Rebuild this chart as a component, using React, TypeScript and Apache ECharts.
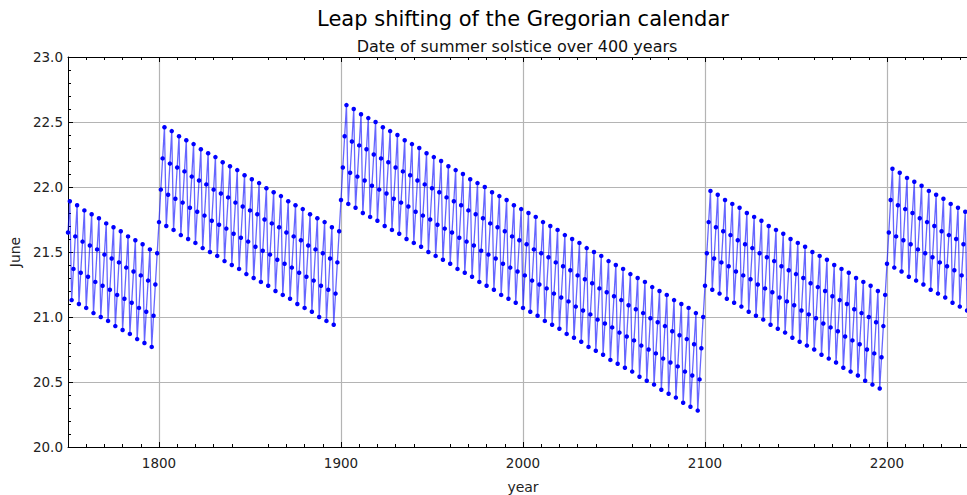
import React, { useEffect, useRef } from "react";
import * as echarts from "echarts";

const firstYear = 1750;

// Day of June of the summer solstice, one value per year 1750..2250
const juneDay: number[] = [
  // 1750-1751
  21.65, 21.89,
  // 1752-1799
  21.13, 21.37, 21.62, 21.86, 21.10, 21.34, 21.58, 21.82, 21.07, 21.31, 21.55, 21.79,
  21.03, 21.27, 21.52, 21.76, 21.00, 21.24, 21.48, 21.72, 20.97, 21.21, 21.45, 21.69,
  20.93, 21.17, 21.42, 21.66, 20.90, 21.14, 21.38, 21.62, 20.87, 21.11, 21.35, 21.59,
  20.83, 21.07, 21.32, 21.56, 20.80, 21.04, 21.28, 21.52, 20.77, 21.01, 21.25, 21.49,
  // 1800-1803
  21.73, 21.98, 22.22, 22.46,
  // 1804-1899
  21.70, 21.94, 22.18, 22.43, 21.67, 21.91, 22.15, 22.39, 21.63, 21.88, 22.12, 22.36,
  21.60, 21.84, 22.08, 22.33, 21.57, 21.81, 22.05, 22.29, 21.53, 21.78, 22.02, 22.26,
  21.50, 21.74, 21.98, 22.23, 21.47, 21.71, 21.95, 22.19, 21.43, 21.68, 21.92, 22.16,
  21.40, 21.64, 21.88, 22.13, 21.37, 21.61, 21.85, 22.09, 21.33, 21.58, 21.82, 22.06,
  21.30, 21.54, 21.79, 22.03, 21.27, 21.51, 21.75, 21.99, 21.24, 21.48, 21.72, 21.96,
  21.20, 21.44, 21.69, 21.93, 21.17, 21.41, 21.65, 21.89, 21.14, 21.38, 21.62, 21.86,
  21.10, 21.34, 21.59, 21.83, 21.07, 21.31, 21.55, 21.79, 21.04, 21.28, 21.52, 21.76,
  21.00, 21.24, 21.49, 21.73, 20.97, 21.21, 21.45, 21.69, 20.94, 21.18, 21.42, 21.66,
  // 1900-1903
  21.90, 22.15, 22.39, 22.63,
  // 1904-2099
  21.87, 22.11, 22.35, 22.60, 21.84, 22.08, 22.32, 22.56, 21.80, 22.05, 22.29, 22.53,
  21.77, 22.01, 22.25, 22.50, 21.74, 21.98, 22.22, 22.46, 21.70, 21.95, 22.19, 22.43,
  21.67, 21.91, 22.15, 22.40, 21.64, 21.88, 22.12, 22.36, 21.60, 21.85, 22.09, 22.33,
  21.57, 21.81, 22.05, 22.30, 21.54, 21.78, 22.02, 22.26, 21.50, 21.75, 21.99, 22.23,
  21.47, 21.71, 21.96, 22.20, 21.44, 21.68, 21.92, 22.16, 21.41, 21.65, 21.89, 22.13,
  21.37, 21.61, 21.86, 22.10, 21.34, 21.58, 21.82, 22.06, 21.31, 21.55, 21.79, 22.03,
  21.27, 21.51, 21.76, 22.00, 21.24, 21.48, 21.72, 21.96, 21.21, 21.45, 21.69, 21.93,
  21.17, 21.41, 21.66, 21.90, 21.14, 21.38, 21.62, 21.86, 21.11, 21.35, 21.59, 21.83,
  21.07, 21.32, 21.56, 21.80, 21.04, 21.28, 21.52, 21.77, 21.01, 21.25, 21.49, 21.73,
  20.97, 21.22, 21.46, 21.70, 20.94, 21.18, 21.42, 21.67, 20.91, 21.15, 21.39, 21.63,
  20.87, 21.12, 21.36, 21.60, 20.84, 21.08, 21.32, 21.57, 20.81, 21.05, 21.29, 21.53,
  20.77, 21.02, 21.26, 21.50, 20.74, 20.98, 21.22, 21.47, 20.71, 20.95, 21.19, 21.43,
  20.67, 20.92, 21.16, 21.40, 20.64, 20.88, 21.13, 21.37, 20.61, 20.85, 21.09, 21.33,
  20.58, 20.82, 21.06, 21.30, 20.54, 20.78, 21.03, 21.27, 20.51, 20.75, 20.99, 21.23,
  20.48, 20.72, 20.96, 21.20, 20.44, 20.68, 20.93, 21.17, 20.41, 20.65, 20.89, 21.13,
  20.38, 20.62, 20.86, 21.10, 20.34, 20.58, 20.83, 21.07, 20.31, 20.55, 20.79, 21.03,
  20.28, 20.52, 20.76, 21.00,
  // 2100-2103
  21.24, 21.49, 21.73, 21.97,
  // 2104-2199
  21.21, 21.45, 21.69, 21.94, 21.18, 21.42, 21.66, 21.90, 21.14, 21.39, 21.63, 21.87,
  21.11, 21.35, 21.59, 21.84, 21.08, 21.32, 21.56, 21.80, 21.04, 21.29, 21.53, 21.77,
  21.01, 21.25, 21.49, 21.74, 20.98, 21.22, 21.46, 21.70, 20.94, 21.19, 21.43, 21.67,
  20.91, 21.15, 21.39, 21.64, 20.88, 21.12, 21.36, 21.60, 20.84, 21.09, 21.33, 21.57,
  20.81, 21.05, 21.30, 21.54, 20.78, 21.02, 21.26, 21.50, 20.75, 20.99, 21.23, 21.47,
  20.71, 20.95, 21.20, 21.44, 20.68, 20.92, 21.16, 21.40, 20.65, 20.89, 21.13, 21.37,
  20.61, 20.85, 21.10, 21.34, 20.58, 20.82, 21.06, 21.30, 20.55, 20.79, 21.03, 21.27,
  20.51, 20.75, 21.00, 21.24, 20.48, 20.72, 20.96, 21.20, 20.45, 20.69, 20.93, 21.17,
  // 2200-2203
  21.41, 21.65, 21.90, 22.14,
  // 2204-2250
  21.38, 21.62, 21.86, 22.11, 21.35, 21.59, 21.83, 22.07, 21.31, 21.56, 21.80, 22.04,
  21.28, 21.52, 21.76, 22.01, 21.25, 21.49, 21.73, 21.97, 21.21, 21.46, 21.70, 21.94,
  21.18, 21.42, 21.66, 21.91, 21.15, 21.39, 21.63, 21.87, 21.11, 21.36, 21.60, 21.84,
  21.08, 21.32, 21.56, 21.81, 21.05, 21.29, 21.53, 21.77, 21.01, 21.26, 21.50,
];

const centuryTicks: number[] = [1800, 1900, 2000, 2100, 2200];
const titleText = "Leap shifting of the Gregorian calendar";
const subtitleText = "Date of summer solstice over 400 years";

const FONT = "'DejaVu Sans', sans-serif";

export default function App() {
  const ref = useRef<HTMLDivElement>(null);
  useEffect(() => {
    if (!ref.current) return;
    const chart = echarts.init(ref.current, undefined, { renderer: "svg" });
    const data = juneDay.map((v, i) => [firstYear + i, v]);
    const xCommon = {
      type: "value" as const,
      min: 1750,
      max: 2250,
      interval: 50,
      axisLine: { show: true, onZero: false, lineStyle: { color: "#000", width: 1 } },
      axisTick: {
        show: true,
        inside: true,
        length: 5,
        customValues: centuryTicks,
        lineStyle: { color: "#000", width: 1 },
      },
      minorTick: { show: true, splitNumber: 5, length: 3, lineStyle: { color: "#000", width: 1 } },
    };
    const yCommon = {
      type: "value" as const,
      min: 20,
      max: 23,
      interval: 0.5,
      axisLine: { show: true, onZero: false, lineStyle: { color: "#000", width: 1 } },
      axisTick: { show: true, inside: true, length: 5, lineStyle: { color: "#000", width: 1 } },
      minorTick: { show: true, splitNumber: 5, length: 3, lineStyle: { color: "#000", width: 1 } },
    };
    chart.setOption({
      animation: false,
      backgroundColor: "#fff",
      textStyle: { fontFamily: FONT },
      grid: {
        left: 68,
        top: 57,
        width: 910,
        height: 390,
        containLabel: false,
        outerBoundsMode: "none",
      },
      graphic: [
        {
          type: "text",
          x: 523,
          y: 19,
          style: {
            text: titleText,
            font: `21px ${FONT}`,
            fill: "#000",
            textAlign: "center",
            textVerticalAlign: "middle",
          },
        },
        {
          type: "text",
          x: 517,
          y: 46,
          style: {
            text: subtitleText,
            font: `16px ${FONT}`,
            fill: "#111",
            textAlign: "center",
            textVerticalAlign: "middle",
          },
        },
      ],
      xAxis: [
        {
          ...xCommon,
          position: "bottom",
          name: "year",
          nameLocation: "middle",
          nameGap: 33,
          nameTextStyle: { fontSize: 14, color: "#222", fontFamily: FONT },
          axisLabel: {
            show: true,
            customValues: centuryTicks,
            fontSize: 13.5,
            color: "#222",
            margin: 9,
            fontFamily: FONT,
            formatter: (v: number) => String(v),
          },
          splitLine: { show: true, lineStyle: { color: "#b4b4b4", width: 1.2 } },
        },
        {
          ...xCommon,
          position: "top",
          axisLabel: { show: false },
          splitLine: { show: false },
        },
      ],
      yAxis: [
        {
          ...yCommon,
          position: "left",
          name: "June",
          nameLocation: "middle",
          nameGap: 45,
          nameRotate: 90,
          nameTextStyle: { fontSize: 14, color: "#222", fontFamily: FONT },
          axisLabel: {
            show: true,
            fontSize: 13.5,
            color: "#222",
            margin: 5,
            fontFamily: FONT,
            formatter: (v: number) => v.toFixed(1),
          },
          splitLine: { show: true, lineStyle: { color: "#b4b4b4", width: 1.2 } },
        },
        {
          ...yCommon,
          position: "right",
          axisLabel: { show: false },
          splitLine: { show: false },
        },
      ],
      series: [
        {
          type: "line",
          xAxisIndex: 0,
          yAxisIndex: 0,
          data,
          symbol: "circle",
          symbolSize: 4.5,
          showSymbol: true,
          itemStyle: { color: "#0000ff" },
          lineStyle: { color: "#0000ff", width: 1.3, opacity: 0.6 },
          z: 3,
        },
      ],
    });
    return () => chart.dispose();
  }, []);
  return (
    <div
      ref={ref}
      style={{ position: "fixed", left: 0, top: 0, width: 967, height: 495 }}
    />
  );
}
